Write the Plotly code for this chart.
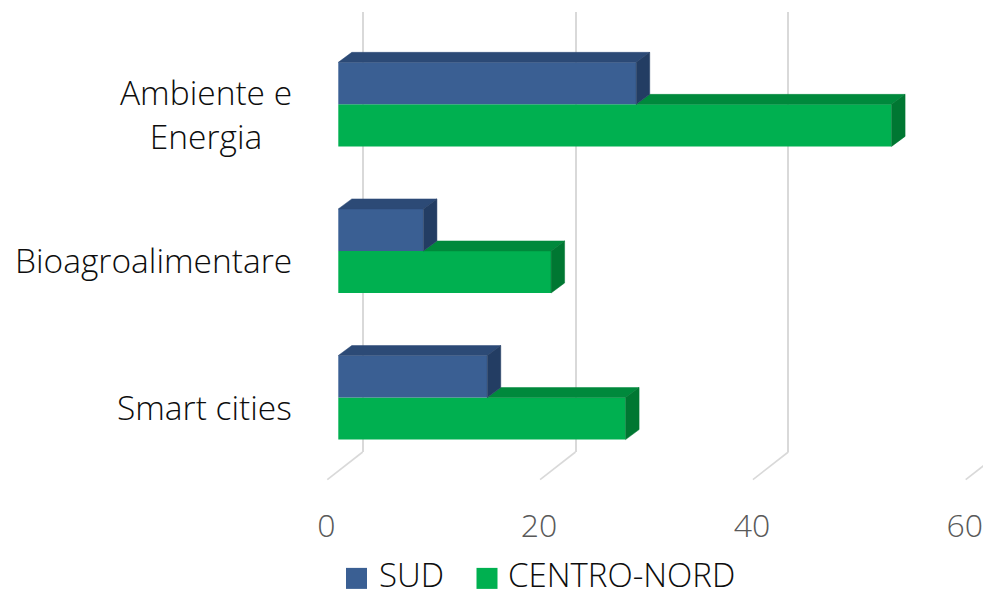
import plotly.graph_objects as go

# ---------------- data ----------------
categories = ["Ambiente e<br>Energia", "Bioagroalimentare", "Smart cities"]
series_names = ["SUD", "CENTRO-NORD"]
sud = [28, 8, 14]
centro_nord = [52, 20, 27]
tick_values = [0, 20, 40, 60]

# ---------------- geometry / style ----------------
W, H = 983, 592
M_T = 12
PLOT_B = 451.7             # back floor edge row = plot-area bottom
M_B = H - PLOT_B
PLOT_H = PLOT_B - M_T

PX_PER_UNIT = 10.64
X0_BAR = 338.3             # value 0 at the bars' front face
X0_BACK = 362.7            # value 0 on the back wall (gridlines)
X0_FLOOR = 326.3           # value 0 at the front floor edge (tick labels)
FLOOR_FRONT_Y = 479.3
Y_CAT0 = 104.3
PX_PER_CAT = 146.5
BAR_W = 42 / PX_PER_CAT
DEPTH_DX = 13.5 / PX_PER_UNIT
DEPTH_DY = 10.0 / PX_PER_CAT

COL = {
    "SUD": dict(front="#3A5F93", top="#2C4A76", side="#233D63"),
    "CENTRO-NORD": dict(front="#00B050", top="#00893C", side="#007732"),
}
FONT = "Open Sans, Noto Sans, sans-serif"
GRID = "#D9D9D9"


def x_range(x0):
    return [-x0 / PX_PER_UNIT, (W - x0) / PX_PER_UNIT]


y_range = [(PLOT_B - Y_CAT0) / PX_PER_CAT, (M_T - Y_CAT0) / PX_PER_CAT]


def px_x(px):
    return px / W


def px_y(py):
    return (PLOT_B - py) / PLOT_H


fig = go.Figure()

pos = list(range(len(categories)))
series = [
    ("CENTRO-NORD", centro_nord, [p + BAR_W / 2 for p in pos], sud),
    ("SUD", sud, [p - BAR_W / 2 for p in pos], [0] * len(sud)),
]

for name, vals, ys, starts in series:
    c = COL[name]
    tx, ty, sx, sy = [], [], [], []
    for v, yc, s in zip(vals, ys, starts):
        yt, yb = yc - BAR_W / 2, yc + BAR_W / 2
        s = min(s, v)
        tx += [s, v, v + DEPTH_DX, s + DEPTH_DX, s, None]
        ty += [yt, yt, yt - DEPTH_DY, yt - DEPTH_DY, yt, None]
        sx += [v, v + DEPTH_DX, v + DEPTH_DX, v, v, None]
        sy += [yt, yt - DEPTH_DY, yb - DEPTH_DY, yb, yt, None]
    fig.add_trace(go.Bar(
        x=vals, y=ys, orientation="h", width=BAR_W, name=name,
        marker=dict(color=c["front"], line=dict(width=0)),
        showlegend=False, hoverinfo="x+name",
    ))
    fig.add_trace(go.Scatter(
        x=tx, y=ty, mode="lines", fill="toself", fillcolor=c["top"],
        line=dict(color=c["top"], width=0.5), showlegend=False, hoverinfo="skip",
    ))
    fig.add_trace(go.Scatter(
        x=sx, y=sy, mode="lines", fill="toself", fillcolor=c["side"],
        line=dict(color=c["side"], width=0.5), showlegend=False, hoverinfo="skip",
    ))

# floor diagonals from back-wall gridlines to the front floor edge
back_off = (X0_BACK - X0_BAR) / PX_PER_UNIT
front_off = (327.3 - X0_BAR) / PX_PER_UNIT
shapes = []
for t in tick_values:
    shapes.append(dict(
        type="line", xref="x", yref="paper",
        x0=t + back_off, y0=0, x1=t + front_off, y1=px_y(FLOOR_FRONT_Y),
        line=dict(color=GRID, width=1.6), layer="below",
    ))

# category labels
annotations = []
for p, cat in zip(pos, categories):
    annotations.append(dict(
        text=cat, xref="paper", yref="y", x=px_x(294), y=p + 0.065,
        xanchor="right", yanchor="middle", align="center", showarrow=False,
        font=dict(family=FONT, size=33.5, color="#0D0D0D", weight=300),
    ))

# legend (manual, to get Excel-sized squares)
leg_sq = [(346, 367), (476.5, 497.5)]
leg_txt = [377, 506]
for name, (a, b), tx in zip(series_names, leg_sq, leg_txt):
    shapes.append(dict(
        type="rect", xref="paper", yref="paper",
        x0=px_x(a), x1=px_x(b), y0=px_y(588.5), y1=px_y(567.5),
        fillcolor=COL[name]["front"], line=dict(width=0),
    ))
    annotations.append(dict(
        text=name, xref="paper", yref="paper", x=px_x(tx), y=px_y(574),
        xanchor="left", yanchor="middle", showarrow=False,
        font=dict(family=FONT, size=33, color="#0D0D0D", weight=300),
    ))

fig.update_layout(
    width=W, height=H,
    margin=dict(l=0, r=0, t=M_T, b=M_B, pad=0, autoexpand=False),
    paper_bgcolor="white", plot_bgcolor="white",
    barmode="overlay", showlegend=False,
    xaxis=dict(range=x_range(X0_BAR), showgrid=False, zeroline=False,
               showticklabels=False, showline=False, fixedrange=True),
    xaxis2=dict(range=x_range(X0_BACK), overlaying="x", side="bottom",
                tickvals=tick_values, showgrid=True, gridcolor=GRID, gridwidth=1.6,
                zeroline=False, showticklabels=False, showline=False, ticks=""),
    xaxis3=dict(range=x_range(X0_FLOOR), overlaying="x", side="bottom",
                tickvals=tick_values, showgrid=False, zeroline=False, showline=False,
                ticks="", ticklabelstandoff=52, ticklabeloverflow="allow",
                tickfont=dict(family=FONT, size=32, color="#595959", weight=300)),
    yaxis=dict(range=y_range, showgrid=False, zeroline=False, showticklabels=False,
               showline=False, fixedrange=True),
    shapes=shapes, annotations=annotations,
)

# dummy traces so the overlaying axes are instantiated
fig.add_trace(go.Scatter(x=[None], y=[None], xaxis="x2", showlegend=False, hoverinfo="skip"))
fig.add_trace(go.Scatter(x=[None], y=[None], xaxis="x3", showlegend=False, hoverinfo="skip"))

fig.write_html(
    "out.html",
    config={"displayModeBar": False},
    post_script="document.body.style.margin='0';"
                "document.documentElement.style.overflow='hidden';",
)
